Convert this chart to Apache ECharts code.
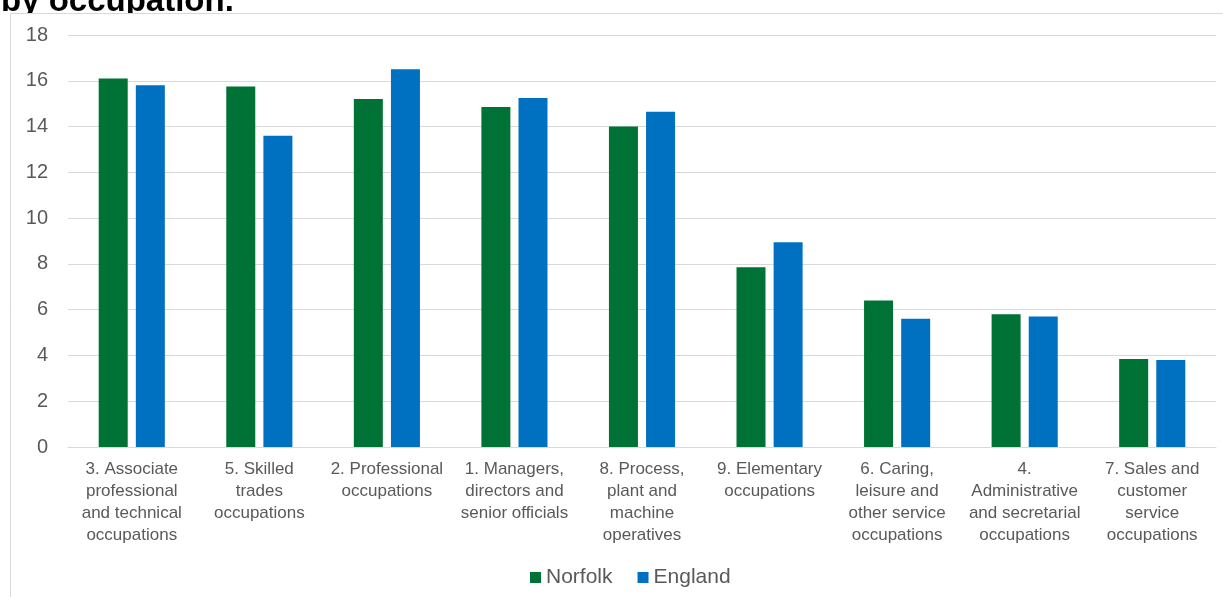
<!DOCTYPE html>
<html>
<head>
<meta charset="utf-8">
<script src="https://cdn.jsdelivr.net/npm/echarts@6/dist/echarts.min.js"></script>
<style>
  html, body { margin: 0; padding: 0; background: #fff; }
  #chart { width: 1223px; height: 597px; }
</style>
</head>
<body>
<div id="chart"></div>
<script>
const categories = [
  '3. Associate\nprofessional\nand technical\noccupations',
  '5. Skilled\ntrades\noccupations',
  '2. Professional\noccupations',
  '1. Managers,\ndirectors and\nsenior officials',
  '8. Process,\nplant and\nmachine\noperatives',
  '9. Elementary\noccupations',
  '6. Caring,\nleisure and\nother service\noccupations',
  '4.\nAdministrative\nand secretarial\noccupations',
  '7. Sales and\ncustomer\nservice\noccupations'
];
const norfolk = [16.1, 15.75, 15.2, 14.85, 14.0, 7.85, 6.4, 5.8, 3.85];
const england = [15.8, 13.6, 16.5, 15.25, 14.65, 8.95, 5.6, 5.7, 3.8];

const chart = echarts.init(document.getElementById('chart'));
const textColor = '#595959';
const fontFamily = 'Arial, "Liberation Sans", sans-serif';

chart.setOption({
  animation: false,
  textStyle: { fontFamily: fontFamily },
  graphic: [
    {
      type: 'text',
      left: 1,
      top: -15,
      z: 1,
      style: {
        text: 'by occupation.',
        font: 'bold 33px ' + fontFamily,
        fill: '#000'
      }
    },
    {
      // chart area box, drawn over the cut-off title
      type: 'rect',
      shape: { x: 10.5, y: 13.5, width: 1300, height: 700 },
      style: { fill: '#fff', stroke: '#d9d9d9', lineWidth: 1 },
      z: 2
    }
  ],
  grid: { left: 68, right: 7, top: 35, bottom: 150, z: 10 },
  legend: {
    left: 525,
    top: 562,
    itemWidth: 11,
    itemHeight: 11,
    itemGap: 25,
    icon: 'rect',
    z: 10,
    textStyle: { color: textColor, fontSize: 21, lineHeight: 21 },
    data: ['Norfolk', 'England']
  },
  xAxis: {
    type: 'category',
    data: categories,
    z: 10,
    axisTick: { show: false },
    axisLine: { lineStyle: { color: '#d9d9d9', width: 1 } },
    axisLabel: {
      interval: 0,
      color: textColor,
      fontSize: 17,
      lineHeight: 22,
      margin: 11
    }
  },
  yAxis: {
    type: 'value',
    min: 0,
    max: 18,
    interval: 2,
    z: 10,
    axisLine: { show: false },
    axisTick: { show: false },
    axisLabel: { color: textColor, fontSize: 20, margin: 20 },
    splitLine: { lineStyle: { color: '#d9d9d9', width: 1 } }
  },
  series: [
    {
      name: 'Norfolk',
      type: 'bar',
      z: 10,
      data: norfolk,
      barWidth: 29,
      barGap: '28%',
      itemStyle: { color: '#007236' }
    },
    {
      name: 'England',
      type: 'bar',
      z: 10,
      data: england,
      barWidth: 29,
      barGap: '28%',
      itemStyle: { color: '#0070C0' }
    }
  ]
});
</script>
</body>
</html>
